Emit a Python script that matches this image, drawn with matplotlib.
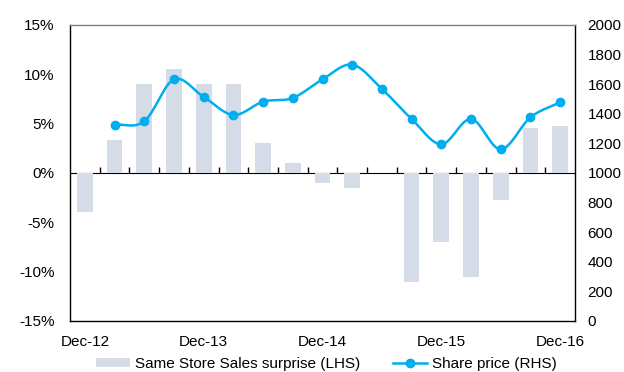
import numpy as np
import matplotlib
matplotlib.use("Agg")
import matplotlib.pyplot as plt
from matplotlib.patches import Patch
from matplotlib.lines import Line2D

# ---- data ----
quarters = ["Dec-12", "Mar-13", "Jun-13", "Sep-13", "Dec-13", "Mar-14", "Jun-14", "Sep-14",
            "Dec-14", "Mar-15", "Jun-15", "Sep-15", "Dec-15", "Mar-16", "Jun-16", "Sep-16", "Dec-16"]
sss_surprise = [-4.0, 3.3, 9.0, 10.5, 9.0, 9.0, 3.0, 1.0, -1.0, -1.5, 0.0, -11.0, -7.0, -10.5, -2.7, 4.6, 4.8]
share_price = [np.nan, 1326, 1349, 1633, 1514, 1392, 1482, 1507, 1633, 1732, 1568, 1365, 1194, 1365, 1160, 1376, 1478]
label_every = 4

plt.rcParams['font.family'] = ['Liberation Sans', 'DejaVu Sans']
plt.rcParams['font.size'] = 11

bar_color = '#D5DBE7'
line_color = '#00AEEF'

fig = plt.figure(figsize=(6.24, 3.72), dpi=100)
ax = fig.add_axes([70/624, 1-321/372, 505/624, 296/372])
x = np.arange(len(quarters))
ax.bar(x, sss_surprise, width=0.53, color=bar_color, zorder=1)
ax.set_xlim(-0.5, len(quarters) - 0.5)
ax.set_ylim(-15, 15)
ax.set_yticks(np.arange(-15, 16, 5))
ax.set_yticklabels([f"{v}%" for v in range(-15, 16, 5)])
ax.tick_params(axis='y', length=0, pad=11)
ax.set_xticks(x[::label_every])
ax.set_xticklabels(quarters[::label_every])
ax.tick_params(axis='x', length=0, pad=10)
for s in ['left', 'bottom', 'right']:
    ax.spines[s].set_color('black')
    ax.spines[s].set_linewidth(1.0)
ax.spines['top'].set_color('#808080')
ax.spines['top'].set_linewidth(1.0)

# zero line with category-boundary ticks
sec = ax.secondary_xaxis(0.5)
sec.set_xticks(x[:-1] + 0.5)
sec.set_xticklabels([])
sec.tick_params(axis='x', direction='out', length=4, width=1, color='black')
sec.spines['bottom'].set_color('black')
sec.spines['bottom'].set_linewidth(1.0)

ax2 = ax.twinx()
ax2.set_ylim(0, 2000)
ax2.set_yticks(np.arange(0, 2001, 200))
ax2.tick_params(axis='y', length=0, pad=9)
for s in ax2.spines.values():
    s.set_visible(False)

# smooth curve (Catmull-Rom through the data points)
sp = np.array(share_price, dtype=float)
mask = ~np.isnan(sp)
px = x[mask].astype(float)
py = sp[mask]
P = np.column_stack([px, py])
P_ext = np.vstack([2*P[0]-P[1], P, 2*P[-1]-P[-2]])
curve = []
t = np.linspace(0, 1, 30)
for i in range(1, len(P_ext) - 2):
    p0, p1, p2, p3 = P_ext[i-1], P_ext[i], P_ext[i+1], P_ext[i+2]
    tt = t[:, None]
    seg = 0.5 * ((2*p1) + (-p0 + p2)*tt + (2*p0 - 5*p1 + 4*p2 - p3)*tt**2 + (-p0 + 3*p1 - 3*p2 + p3)*tt**3)
    curve.append(seg)
curve = np.vstack(curve)
ax2.plot(curve[:, 0], curve[:, 1], color=line_color, lw=1.8, zorder=3)
ax2.plot(px, py, 'o', color=line_color, markersize=6, zorder=4)

handles = [Patch(facecolor=bar_color, edgecolor='none'),
           Line2D([0], [0], color=line_color, lw=1.8, marker='o', markersize=6)]
fig.legend(handles, ["Same Store Sales surprise (LHS)", "Share price (RHS)"],
           loc='center', bbox_to_anchor=(0.523, 1-364/372), ncol=2, frameon=False,
           handlelength=2.2, handleheight=0.6, columnspacing=2.2, handletextpad=0.3)

fig.savefig("out.png", dpi=100)
